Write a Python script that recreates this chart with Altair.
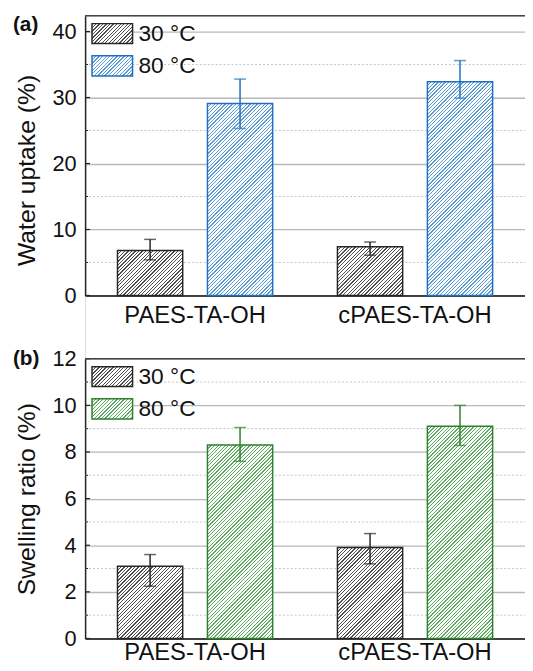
import altair as alt
import pandas as pd

# ---------------- data ----------------
samples = ["PAES-TA-OH", "cPAES-TA-OH"]
temps = ["30 °C", "80 °C"]

# (a) water uptake (%)
wu_30 = [6.8, 7.4]
wu_30_lo = [5.4, 6.1]
wu_30_hi = [8.5, 8.1]
wu_80 = [29.1, 32.4]
wu_80_lo = [25.3, 29.9]
wu_80_hi = [32.8, 35.6]
wu_major = [0, 10, 20, 30, 40]
wu_minor = [5, 15, 25, 35]

# (b) swelling ratio (%)
sr_30 = [3.1, 3.9]
sr_30_lo = [2.24, 3.2]
sr_30_hi = [3.6, 4.5]
sr_80 = [8.3, 9.1]
sr_80_lo = [7.6, 8.28]
sr_80_hi = [9.05, 10.0]
sr_major = [0, 2, 4, 6, 8, 10, 12]
sr_minor = [1, 3, 5, 7, 9, 11]

# ---------------- layout / style ----------------
FONT = "Liberation Sans"
PLOT_W = 445
PANEL_H = 283
GAP = 64
TOTAL_H = 2 * PANEL_H + GAP
PI2 = 0.275
PO2 = 0.36
STEP = PLOT_W / 2
STEP2 = STEP / (2 - PI2 + 2 * PO2)
BAR_W = STEP2 * (1 - PI2)


def hatch(color, w, h, period=3.6, frac=0.36):
    r = h / w
    p = (1 + r) / (1 + r * r)
    q = r * p
    n = max(1, round((w + h) / period))
    stops = []
    for k in range(n):
        a = k / n
        b = (k + frac) / n
        c = (k + 1) / n
        stops += [
            {"offset": a, "color": color},
            {"offset": b, "color": color},
            {"offset": b, "color": "#ffffff"},
            {"offset": c, "color": "#ffffff"},
        ]
    return {"gradient": "linear", "x1": 0, "y1": 0, "x2": p, "y2": q, "stops": stops}


xscale = alt.Scale(domain=samples, paddingInner=0, paddingOuter=0)
xoff = alt.XOffset("temp:N", scale=alt.Scale(domain=temps, paddingInner=PI2, paddingOuter=PO2))


def panel(top, tag, tag_y, title, title_y, v30, lo30, hi30, v80, lo80, hi80,
          ymax, major, minor, hot_stroke, hot_stripe, xlab_pad):
    cold_stroke = "#262626"
    cold_stripe = "#505050"
    strokes = {temps[0]: cold_stroke, temps[1]: hot_stroke}
    stripes = {temps[0]: cold_stripe, temps[1]: hot_stripe}

    rows = []
    for i, s in enumerate(samples):
        rows.append({"sample": s, "temp": temps[0], "value": v30[i], "lo": lo30[i], "hi": hi30[i]})
        rows.append({"sample": s, "temp": temps[1], "value": v80[i], "lo": lo80[i], "hi": hi80[i]})
    df = pd.DataFrame(rows)

    yscale = alt.Scale(domain=[0, ymax], range=[top + PANEL_H, top], nice=False, zero=True)
    yaxis = alt.Axis(
        title=title, values=major, format="d", grid=True, gridColor="#b8b8b8",
        gridWidth=1.3, ticks=False, domain=True, domainColor="#222", domainWidth=1.5,
        labelFontSize=22, labelFont=FONT, labelColor="#111", labelPadding=9,
        titleFontSize=25, titleFont=FONT, titleFontWeight="normal", titleColor="#111",
        titleX=-51, titleY=title_y, titleAlign="center", titleBaseline="alphabetic",
        titleAngle=270, orient="left",
    )
    xaxis = alt.Axis(
        title=None, labelAngle=0, ticks=False, grid=False, orient="bottom",
        offset=(top + PANEL_H) - TOTAL_H,
        labelFontSize=24, labelFont=FONT, labelColor="#111",
        labelPadding=xlab_pad, domainColor="#111", domainWidth=1.5,
    )

    def Y(field, axis=None):
        return alt.Y(field, scale=yscale, axis=axis)

    def X(axis=None):
        return alt.X("sample:N", scale=xscale, axis=axis)

    layers = []

    # minor dotted grid (carries the y axis with major grid)
    layers.append(
        alt.Chart(pd.DataFrame({"v": minor})).mark_rule(
            color="#c4c4c4", strokeWidth=1, strokeDash=[2, 2]
        ).encode(y=Y("v:Q", yaxis), x=alt.value(0), x2=alt.value(PLOT_W + 2))
    )
    # major ticks (inward)
    layers.append(
        alt.Chart(pd.DataFrame({"v": major})).mark_rule(color="#222", strokeWidth=1.2).encode(
            y=Y("v:Q"), x=alt.value(0), x2=alt.value(5),
        )
    )
    # minor ticks (inward)
    layers.append(
        alt.Chart(pd.DataFrame({"v": minor})).mark_rule(color="#222", strokeWidth=1).encode(
            y=Y("v:Q"), x=alt.value(0), x2=alt.value(3)
        )
    )

    # bars with hatch
    px_per_unit = PANEL_H / ymax
    first = True
    for i, s in enumerate(samples):
        for t, vals in ((temps[0], v30), (temps[1], v80)):
            h = vals[i] * px_per_unit
            layers.append(
                alt.Chart(df).transform_filter(
                    (alt.datum.sample == s) & (alt.datum.temp == t)
                ).mark_bar(
                    fill=hatch(stripes[t], BAR_W, h), stroke=strokes[t], strokeWidth=1.5
                ).encode(x=X(xaxis if first else None), xOffset=xoff, y=Y("value:Q"))
            )
            first = False

    # error bars
    for t in temps:
        base = alt.Chart(df).transform_filter(alt.datum.temp == t)
        layers.append(
            base.mark_rule(color=strokes[t], strokeWidth=1.5).encode(
                x=X(), xOffset=xoff, y=Y("lo:Q"), y2="hi:Q",
            )
        )
        for fld in ("lo", "hi"):
            layers.append(
                base.mark_tick(color=strokes[t], orient="horizontal", size=12, thickness=1.5).encode(
                    x=X(), xOffset=xoff, y=Y(f"{fld}:Q")
                )
            )

    # legend (manual, hatched swatches)
    leg_y = [(8, 28), (40.5, 61)]
    text_y = [25.5, 57.5]
    for k, t in enumerate(temps):
        one = pd.DataFrame({"label": [t]})
        layers.append(
            alt.Chart(one).mark_rect(
                fill=hatch(stripes[t], 41, leg_y[k][1] - leg_y[k][0]),
                stroke=strokes[t], strokeWidth=1.5,
            ).encode(
                x=alt.value(7), x2=alt.value(48),
                y=alt.value(top + leg_y[k][0]), y2=alt.value(top + leg_y[k][1]),
            )
        )
        layers.append(
            alt.Chart(one).mark_text(
                align="left", baseline="alphabetic", fontSize=23, font=FONT, color="#111"
            ).encode(text="label:N", x=alt.value(54), y=alt.value(top + text_y[k]))
        )

    # top frame line
    layers.append(
        alt.Chart(pd.DataFrame({"z": [0]})).mark_rule(color="#444", strokeWidth=1.5).encode(
            x=alt.value(0), x2=alt.value(PLOT_W + 2), y=alt.value(top)
        )
    )
    # panel tag
    layers.append(
        alt.Chart(pd.DataFrame({"tag": [tag]})).mark_text(
            align="left", baseline="alphabetic", fontSize=21, fontWeight="bold", font=FONT, color="#111"
        ).encode(text="tag:N", x=alt.value(-73), y=alt.value(top + tag_y))
    )
    return layers


la = panel(0, "(a)", 15, "Water uptake (%)", 156, wu_30, wu_30_lo, wu_30_hi,
           wu_80, wu_80_lo, wu_80_hi, 42.4, wu_major, wu_minor, "#1f6fc1", "#5b9bd5", 8)
lb = panel(PANEL_H + GAP, "(b)", 6.5, "Swelling ratio (%)", PANEL_H + GAP + 141.5,
           sr_30, sr_30_lo, sr_30_hi, sr_80, sr_80_lo, sr_80_hi, 12, sr_major, sr_minor,
           "#2f7f2f", "#5fa85f", 2)

chart = alt.layer(*(la + lb)).resolve_scale(y="independent").resolve_axis(
    x="independent", y="independent"
).properties(
    width=PLOT_W, height=TOTAL_H,
    padding={"left": 78, "top": 4, "right": 0, "bottom": 21},
    autosize=alt.AutoSizeParams(type="none"),
).configure_view(stroke=None).configure(background="white")

chart.save("out.html", embed_options={"renderer": "svg", "actions": False})
